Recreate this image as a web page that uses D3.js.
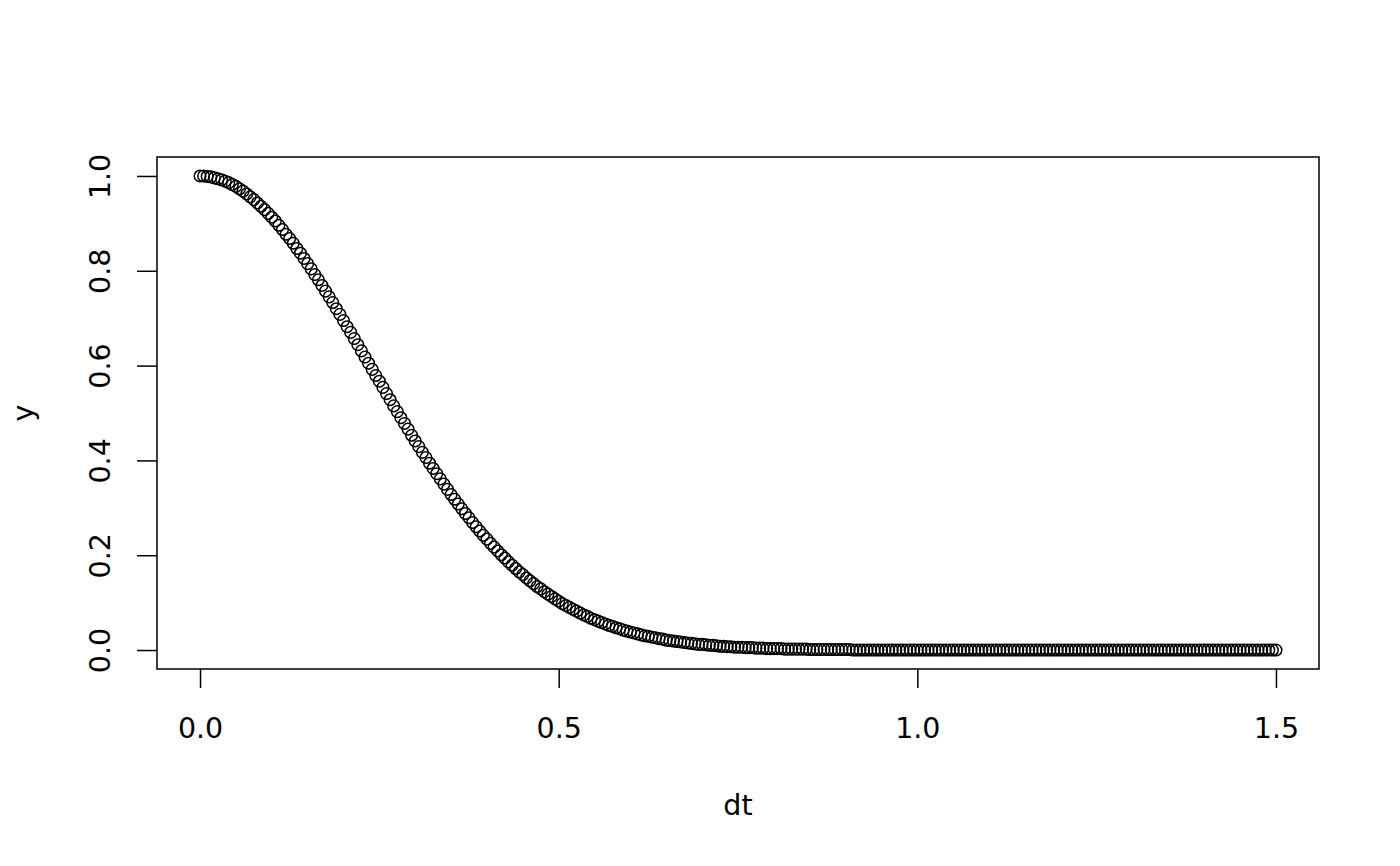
<!DOCTYPE html>
<html>
<head>
<meta charset="utf-8">
<script src="https://cdn.jsdelivr.net/npm/d3@7"></script>
<style>
  body { margin: 0; background: #fff; }
  svg text { font-family: "DejaVu Sans", sans-serif; fill: #000; }
</style>
</head>
<body>
<svg id="chart"></svg>
<script>
// dt values on the x axis (0 to 1.5, every 0.005)
const dtValues = [
  0.000, 0.005, 0.010, 0.015, 0.020, 0.025, 0.030, 0.035, 0.040, 0.045,
  0.050, 0.055, 0.060, 0.065, 0.070, 0.075, 0.080, 0.085, 0.090, 0.095,
  0.100, 0.105, 0.110, 0.115, 0.120, 0.125, 0.130, 0.135, 0.140, 0.145,
  0.150, 0.155, 0.160, 0.165, 0.170, 0.175, 0.180, 0.185, 0.190, 0.195,
  0.200, 0.205, 0.210, 0.215, 0.220, 0.225, 0.230, 0.235, 0.240, 0.245,
  0.250, 0.255, 0.260, 0.265, 0.270, 0.275, 0.280, 0.285, 0.290, 0.295,
  0.300, 0.305, 0.310, 0.315, 0.320, 0.325, 0.330, 0.335, 0.340, 0.345,
  0.350, 0.355, 0.360, 0.365, 0.370, 0.375, 0.380, 0.385, 0.390, 0.395,
  0.400, 0.405, 0.410, 0.415, 0.420, 0.425, 0.430, 0.435, 0.440, 0.445,
  0.450, 0.455, 0.460, 0.465, 0.470, 0.475, 0.480, 0.485, 0.490, 0.495,
  0.500, 0.505, 0.510, 0.515, 0.520, 0.525, 0.530, 0.535, 0.540, 0.545,
  0.550, 0.555, 0.560, 0.565, 0.570, 0.575, 0.580, 0.585, 0.590, 0.595,
  0.600, 0.605, 0.610, 0.615, 0.620, 0.625, 0.630, 0.635, 0.640, 0.645,
  0.650, 0.655, 0.660, 0.665, 0.670, 0.675, 0.680, 0.685, 0.690, 0.695,
  0.700, 0.705, 0.710, 0.715, 0.720, 0.725, 0.730, 0.735, 0.740, 0.745,
  0.750, 0.755, 0.760, 0.765, 0.770, 0.775, 0.780, 0.785, 0.790, 0.795,
  0.800, 0.805, 0.810, 0.815, 0.820, 0.825, 0.830, 0.835, 0.840, 0.845,
  0.850, 0.855, 0.860, 0.865, 0.870, 0.875, 0.880, 0.885, 0.890, 0.895,
  0.900, 0.905, 0.910, 0.915, 0.920, 0.925, 0.930, 0.935, 0.940, 0.945,
  0.950, 0.955, 0.960, 0.965, 0.970, 0.975, 0.980, 0.985, 0.990, 0.995,
  1.000, 1.005, 1.010, 1.015, 1.020, 1.025, 1.030, 1.035, 1.040, 1.045,
  1.050, 1.055, 1.060, 1.065, 1.070, 1.075, 1.080, 1.085, 1.090, 1.095,
  1.100, 1.105, 1.110, 1.115, 1.120, 1.125, 1.130, 1.135, 1.140, 1.145,
  1.150, 1.155, 1.160, 1.165, 1.170, 1.175, 1.180, 1.185, 1.190, 1.195,
  1.200, 1.205, 1.210, 1.215, 1.220, 1.225, 1.230, 1.235, 1.240, 1.245,
  1.250, 1.255, 1.260, 1.265, 1.270, 1.275, 1.280, 1.285, 1.290, 1.295,
  1.300, 1.305, 1.310, 1.315, 1.320, 1.325, 1.330, 1.335, 1.340, 1.345,
  1.350, 1.355, 1.360, 1.365, 1.370, 1.375, 1.380, 1.385, 1.390, 1.395,
  1.400, 1.405, 1.410, 1.415, 1.420, 1.425, 1.430, 1.435, 1.440, 1.445,
  1.450, 1.455, 1.460, 1.465, 1.470, 1.475, 1.480, 1.485, 1.490, 1.495,
  1.500
];
// y values
const yValues = [
  1.000, 1.000, 0.999, 0.998, 0.996, 0.994, 0.992, 0.989, 0.986, 0.982,
  0.978, 0.973, 0.968, 0.962, 0.956, 0.950, 0.943, 0.936, 0.929, 0.921,
  0.913, 0.905, 0.896, 0.887, 0.877, 0.868, 0.858, 0.847, 0.837, 0.826,
  0.815, 0.804, 0.792, 0.781, 0.769, 0.757, 0.745, 0.733, 0.720, 0.708,
  0.695, 0.682, 0.670, 0.657, 0.644, 0.631, 0.618, 0.605, 0.592, 0.579,
  0.567, 0.554, 0.541, 0.528, 0.515, 0.503, 0.490, 0.478, 0.466, 0.453,
  0.441, 0.429, 0.417, 0.406, 0.394, 0.383, 0.372, 0.361, 0.350, 0.339,
  0.328, 0.318, 0.308, 0.298, 0.288, 0.279, 0.269, 0.260, 0.251, 0.242,
  0.234, 0.225, 0.217, 0.209, 0.201, 0.194, 0.186, 0.179, 0.172, 0.165,
  0.159, 0.152, 0.146, 0.140, 0.134, 0.129, 0.123, 0.118, 0.113, 0.108,
  0.103, 0.098, 0.094, 0.090, 0.086, 0.082, 0.078, 0.074, 0.071, 0.067,
  0.064, 0.061, 0.058, 0.055, 0.052, 0.050, 0.047, 0.045, 0.042, 0.040,
  0.038, 0.036, 0.034, 0.032, 0.030, 0.029, 0.027, 0.026, 0.024, 0.023,
  0.021, 0.020, 0.019, 0.018, 0.017, 0.016, 0.015, 0.014, 0.013, 0.012,
  0.012, 0.011, 0.010, 0.010, 0.009, 0.008, 0.008, 0.007, 0.007, 0.006,
  0.006, 0.006, 0.005, 0.005, 0.005, 0.004, 0.004, 0.004, 0.003, 0.003,
  0.003, 0.003, 0.003, 0.002, 0.002, 0.002, 0.002, 0.002, 0.002, 0.002,
  0.001, 0.001, 0.001, 0.001, 0.001, 0.001, 0.001, 0.001, 0.001, 0.001,
  0.001, 0.001, 0, 0, 0, 0, 0, 0, 0, 0,
  0, 0, 0, 0, 0, 0, 0, 0, 0, 0,
  0, 0, 0, 0, 0, 0, 0, 0, 0, 0,
  0, 0, 0, 0, 0, 0, 0, 0, 0, 0,
  0, 0, 0, 0, 0, 0, 0, 0, 0, 0,
  0, 0, 0, 0, 0, 0, 0, 0, 0, 0,
  0, 0, 0, 0, 0, 0, 0, 0, 0, 0,
  0, 0, 0, 0, 0, 0, 0, 0, 0, 0,
  0, 0, 0, 0, 0, 0, 0, 0, 0, 0,
  0, 0, 0, 0, 0, 0, 0, 0, 0, 0,
  0, 0, 0, 0, 0, 0, 0, 0, 0, 0,
  0, 0, 0, 0, 0, 0, 0, 0, 0, 0,
  0
];
// tick positions and labels
const xTicks = [0, 0.5, 1.0, 1.5];
const xTickLabels = ["0.0", "0.5", "1.0", "1.5"];
const yTicks = [0, 0.2, 0.4, 0.6, 0.8, 1.0];
const yTickLabels = ["0.0", "0.2", "0.4", "0.6", "0.8", "1.0"];

const W = 1400, H = 866;
const box = { left: 157, right: 1319, top: 157, bottom: 669 };
const fontSize = 28.5;

const svg = d3.select("#chart")
  .attr("width", W)
  .attr("height", H);

// R style: 4% padding on each side of the data range
const xScale = d3.scaleLinear()
  .domain([-0.06, 1.56])
  .range([box.left, box.right]);
const yScale = d3.scaleLinear()
  .domain([-0.04, 1.04])
  .range([box.bottom, box.top]);

// Points
svg.append("g")
  .selectAll("circle")
  .data(dtValues.map((d, i) => ({ x: d, y: yValues[i] })))
  .join("circle")
  .attr("cx", d => xScale(d.x))
  .attr("cy", d => yScale(d.y))
  .attr("r", 5.8)
  .attr("fill", "none")
  .attr("stroke", "#000")
  .attr("stroke-width", 1.5);

// Plot frame
svg.append("rect")
  .attr("x", box.left)
  .attr("y", box.top)
  .attr("width", box.right - box.left)
  .attr("height", box.bottom - box.top)
  .attr("fill", "none")
  .attr("stroke", "#000")
  .attr("stroke-width", 1.5);

// X axis
const xAxis = svg.append("g")
  .attr("transform", `translate(0, ${box.bottom})`)
  .call(d3.axisBottom(xScale)
    .tickValues(xTicks)
    .tickFormat((d, i) => xTickLabels[i])
    .tickSize(19));
xAxis.select(".domain").remove();
xAxis.selectAll("line").attr("stroke", "#000").attr("stroke-width", 1.5);
xAxis.selectAll("text")
  .attr("font-size", fontSize)
  .attr("font-family", "DejaVu Sans")
  .attr("dy", null)
  .attr("y", 69);

// Y axis
const yAxis = svg.append("g")
  .attr("transform", `translate(${box.left}, 0)`)
  .call(d3.axisLeft(yScale)
    .tickValues(yTicks)
    .tickFormat((d, i) => yTickLabels[i])
    .tickSize(20));
yAxis.select(".domain").remove();
yAxis.selectAll("line").attr("stroke", "#000").attr("stroke-width", 1.5);
yAxis.selectAll("text")
  .attr("font-size", fontSize)
  .attr("font-family", "DejaVu Sans")
  .attr("text-anchor", "middle")
  .attr("x", null)
  .attr("dy", null)
  .attr("transform", "translate(-47, 0) rotate(-90)");

// Axis titles
svg.append("text")
  .attr("x", (box.left + box.right) / 2)
  .attr("y", 815)
  .attr("text-anchor", "middle")
  .attr("font-size", fontSize)
  .text("dt");

svg.append("text")
  .attr("transform", `translate(33, ${(box.top + box.bottom) / 2}) rotate(-90)`)
  .attr("text-anchor", "middle")
  .attr("font-size", fontSize)
  .text("y");
</script>
</body>
</html>
